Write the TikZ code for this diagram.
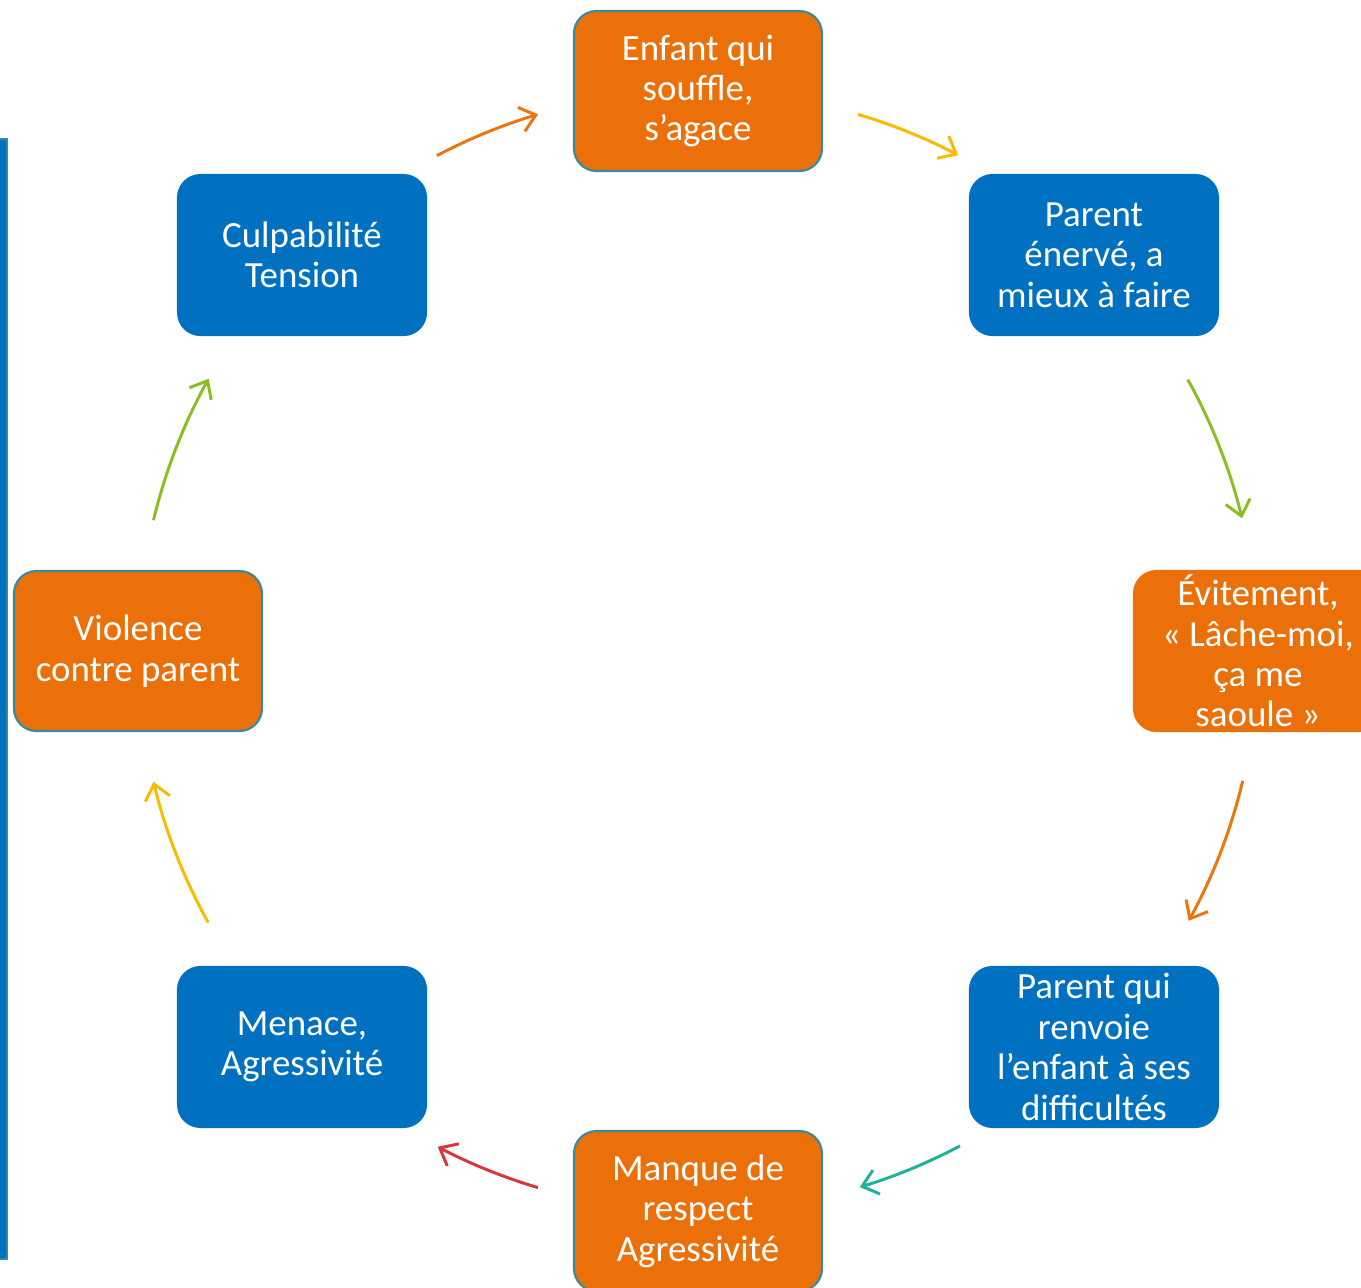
\documentclass[tikz,border=0pt]{standalone}
\usepackage{fontspec}
\setmainfont{Carlito}
\usetikzlibrary{positioning,calc,arrows.meta}

\definecolor{boxorange}{RGB}{236,112,10}
\definecolor{boxblue}{RGB}{0,113,192}
\definecolor{boxedge}{RGB}{52,138,158}
\definecolor{arrorange}{RGB}{237,117,15}
\definecolor{arrgold}{RGB}{250,186,0}
\definecolor{arrgreen}{RGB}{140,190,35}
\definecolor{arrteal}{RGB}{32,178,150}
\definecolor{arrred}{RGB}{214,56,62}

\begin{document}
\begin{tikzpicture}
	\useasboundingbox (-13.96,-12.72) rectangle (13.26,13.02);
	\draw [fill=boxblue, draw=boxedge, line width=0.8pt] (-14.4,-12.16) rectangle (-13.82,10.24);
	\begin{scope}
		\tikzstyle{cyclebox}=[align=center, inner sep=0pt, text=white, font=\fontsize{21}{23}\selectfont, rounded corners=0.45cm, minimum width=4.96cm, minimum height=3.2cm, line width=1.2pt]
		\tikzstyle{orangebox}=[cyclebox, fill=boxorange, draw=boxedge]
		\tikzstyle{bluebox}=[cyclebox, fill=boxblue, draw=boxblue]
		\tikzstyle{cyclearrow}=[line width=1.7pt, -{Straight Barb[length=0.3cm, width=0.5cm]}]
		\node [orangebox] (souffle) at (90:11.2) {Enfant qui\\souffle,\\s’agace};
		\node [bluebox] (enerve) at (45:11.2) {Parent\\énervé, a\\mieux à faire};
		\node [orangebox, draw=boxorange] (evitement) at (0:11.2) {Évitement,\\«~Lâche-moi,\\ça me\\saoule~»};
		\node [bluebox] (renvoie) at (-45:11.2) {Parent qui\\renvoie\\l’enfant à ses\\difficultés};
		\node [orangebox] (respect) at (-90:11.2) {Manque de\\respect\\Agressivité};
		\node [bluebox] (menace) at (-135:11.2) {Menace,\\Agressivité};
		\node [orangebox] (violence) at (180:11.2) {Violence\\contre parent};
		\node [bluebox] (culpa) at (135:11.2) {Culpabilité\\Tension};

		\coordinate (culpa-out) at (117.8:11.2);
		\coordinate (souffle-out) at (73.4:11.2);
		\coordinate (enerve-out) at (29.0:11.2);
		\coordinate (evitement-out) at (-13.4:11.2);
		\coordinate (renvoie-out) at (-62.1:11.2);
		\coordinate (respect-out) at (-106.6:11.2);
		\coordinate (menace-out) at (-151.0:11.2);
		\coordinate (violence-out) at (166.5:11.2);

		\draw [cyclearrow, arrorange] (culpa-out) arc [start angle=117.8, end angle=106.6, radius=11.2];
		\draw [cyclearrow, arrgold] (souffle-out) arc [start angle=73.4, end angle=62.3, radius=11.2];
		\draw [cyclearrow, arrgreen] (enerve-out) arc [start angle=29.0, end angle=13.7, radius=11.2];
		\draw [cyclearrow, arrorange] (evitement-out) arc [start angle=-13.4, end angle=-28.8, radius=11.2];
		\draw [cyclearrow, arrteal] (renvoie-out) arc [start angle=-62.1, end angle=-73.2, radius=11.2];
		\draw [cyclearrow, arrred] (respect-out) arc [start angle=-106.6, end angle=-117.7, radius=11.2];
		\draw [cyclearrow, arrgold] (menace-out) arc [start angle=-151.0, end angle=-166.5, radius=11.2];
		\draw [cyclearrow, arrgreen] (violence-out) arc [start angle=166.5, end angle=150.9, radius=11.2];
	\end{scope}
\end{tikzpicture}
\end{document}
